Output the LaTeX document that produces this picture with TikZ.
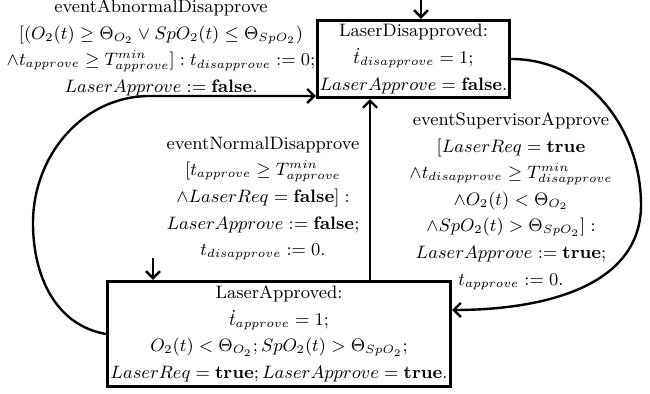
\documentclass[tikz,border=0pt]{standalone}
\usepackage{amssymb}
\usepackage{amsmath}
\usetikzlibrary{arrows.meta}

\begin{document}
\begin{tikzpicture}[x=0.5pt,y=0.5pt,font=\fontsize{9}{13.3}\selectfont,>={Straight Barb[length=3.5pt,width=7pt]}]
\useasboundingbox (0,0) rectangle (650,394);

% states
\node[draw, line width=1.6pt, minimum width=96pt, minimum height=38.5pt, inner sep=1pt, align=center] (LaserDisapproved) at (413.5,335) {LaserDisapproved:\\ $\dot{t}_{disapprove}=1;$\\ $LaserApprove=\mathbf{false}.$};
\node[draw, line width=1.6pt, minimum width=171.5pt, minimum height=52.5pt, inner sep=1pt, align=center] (LaserApproved) at (279,60) {LaserApproved:\\ $\dot{t}_{approve}=1;$\\ $O_2(t)<\Theta_{O_2};SpO_2(t)>\Theta_{SpO_2};$\\ $LaserReq=\mathbf{true};LaserApprove=\mathbf{true}.$};

% initial arrows
\coordinate (initD) at (421,394);
\draw[very thick,->] (initD) -- (initD |- LaserDisapproved.north);
\coordinate (initA) at (153,136);
\draw[very thick,->] (initA) -- (initA |- LaserApproved.north);

% transitions
\coordinate (up) at (370,200);
\draw[very thick,->] (up |- LaserApproved.north) -- (up |- LaserDisapproved.south);
\draw[very thick,->] (LaserApproved.west) to[out=170,in=270] (33,171) to[out=90,in=180] (150,298) -- ([yshift=-18.5pt]LaserDisapproved.west);
\draw[very thick,->] (LaserDisapproved.east) to[out=0,in=90] (641,189) to[out=270,in=0] ([yshift=12pt]LaserApproved.east);

% guards
\node[align=center, inner sep=0pt] (abnormal) at (161,346) {eventAbnormalDisapprove\\ $[(O_2(t)\geq\Theta_{O_2}\vee SpO_2(t)\leq\Theta_{SpO_2})$\\ $\wedge t_{approve}\geq T^{min}_{approve}]:t_{disapprove}:=0;$\\ $LaserApprove:=\mathbf{false}.$};
\node[align=center] (normal) at (263,195.5) {eventNormalDisapprove\\ $[t_{approve}\geq T^{min}_{approve}$\\ $\wedge LaserReq=\mathbf{false}]:$\\ $LaserApprove:=\mathbf{false};$\\ $t_{disapprove}:=0.$};
\node[align=center] (supervisor) at (511,193) {eventSupervisorApprove\\ $[LaserReq=\mathbf{true}$\\ $\wedge t_{disapprove}\geq T^{min}_{disapprove}$\\ $\wedge O_2(t)<\Theta_{O_2}$\\ $\wedge SpO_2(t)>\Theta_{SpO_2}]:$\\ $LaserApprove:=\mathbf{true};$\\ $t_{approve}:=0.$};
\end{tikzpicture}
\end{document}
